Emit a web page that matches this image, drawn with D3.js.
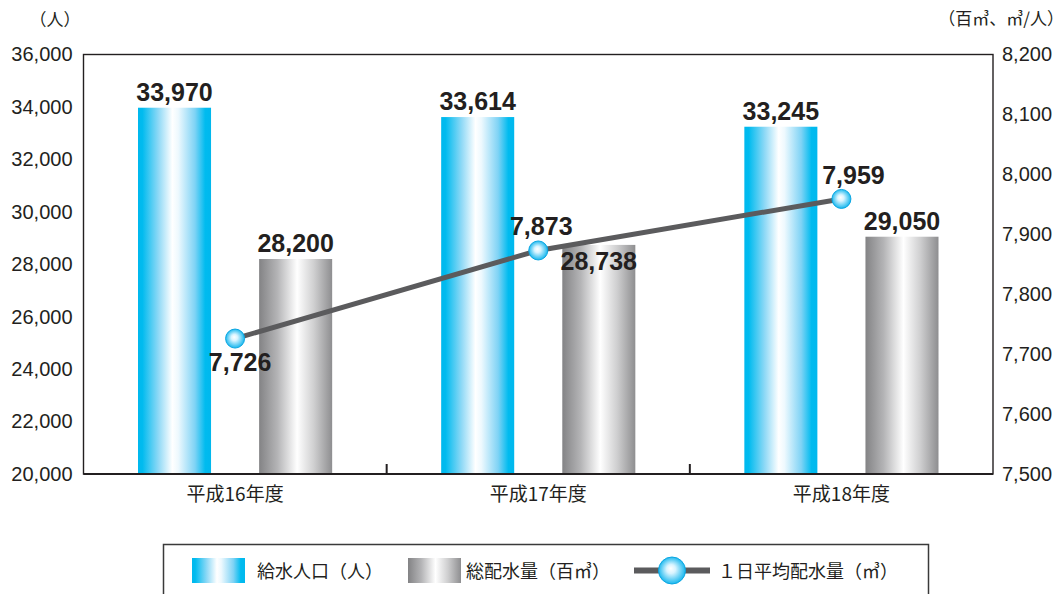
<!DOCTYPE html>
<html lang="ja">
<head>
<meta charset="utf-8">
<script src="https://cdn.jsdelivr.net/npm/d3@7"></script>
<style>
  html, body { margin: 0; padding: 0; background: #fff; }
  svg { display: block; }
  .num { font-family: "Liberation Sans", Arial, sans-serif; }
  .jp { font-family: "Noto Sans CJK JP", sans-serif; }
</style>
</head>
<body>
<svg id="chart" width="1064" height="594"></svg>
<script>
// 年度別データ
const categories = ["平成16年度", "平成17年度", "平成18年度"];
const population = [33970, 33614, 33245];      // 給水人口（人）
const totalVolume = [28200, 28738, 29050];     // 総配水量（百㎥）
const dailyAverage = [7726, 7873, 7959];       // 1日平均配水量（㎥）
const leftTicks = [20000, 22000, 24000, 26000, 28000, 30000, 32000, 34000, 36000];
const rightTicks = [7500, 7600, 7700, 7800, 7900, 8000, 8100, 8200];
const legendLabels = ["給水人口（人）", "総配水量（百㎥）", "１日平均配水量（㎥）"];

const ink = "#231f20";
const svg = d3.select("#chart");
const plot = { left: 83.5, right: 993, top: 54.5, bottom: 474 };

const x = d3.scaleBand().domain(categories).range([plot.left, plot.right]).padding(0);
const sub = d3.scaleBand().domain(["pop", "vol"]).range([0, x.bandwidth()])
  .paddingInner(0.397).paddingOuter(0.45);
const yL = d3.scaleLinear().domain([20000, 36000]).range([plot.bottom, plot.top]);
const yR = d3.scaleLinear().domain([7500, 8200]).range([plot.bottom, plot.top]);
const fmt = d3.format(",");

// gradients
const defs = svg.append("defs");
const blue = defs.append("linearGradient").attr("id", "gBlue");
[[0, "#00b8ee"], [0.06, "#00bbef"], [0.28, "#8fd9f6"], [0.47, "#ffffff"],
 [0.55, "#eef9fe"], [0.78, "#7fd3f5"], [0.92, "#00bbef"], [1, "#00b8ee"]]
  .forEach(([o, c]) => blue.append("stop").attr("offset", o).attr("stop-color", c));
const gray = defs.append("linearGradient").attr("id", "gGray");
[[0, "#838385"], [0.25, "#b4b4b6"], [0.52, "#ffffff"], [0.75, "#cfcfd0"], [1, "#8e8e90"]]
  .forEach(([o, c]) => gray.append("stop").attr("offset", o).attr("stop-color", c));
const ball = defs.append("radialGradient").attr("id", "gBall")
  .attr("cx", "50%").attr("cy", "50%").attr("r", "55%").attr("fx", "45%").attr("fy", "42%");
[[0, "#ffffff"], [0.3, "#d9f4ff"], [0.75, "#4cc8f3"], [1, "#00aee9"]]
  .forEach(([o, c]) => ball.append("stop").attr("offset", o).attr("stop-color", c));

// bars
const barKeys = [["pop", population, "url(#gBlue)"], ["vol", totalVolume, "url(#gGray)"]];
barKeys.forEach(([key, values, fill]) => {
  svg.append("g").selectAll("rect").data(categories).join("rect")
    .attr("x", c => x(c) + sub(key))
    .attr("width", sub.bandwidth())
    .attr("y", (c, i) => yL(values[i]))
    .attr("height", (c, i) => plot.bottom - yL(values[i]))
    .attr("fill", fill);
});

// frame
svg.append("rect")
  .attr("x", plot.left).attr("y", plot.top)
  .attr("width", plot.right - plot.left).attr("height", plot.bottom - plot.top)
  .attr("fill", "none").attr("stroke", ink).attr("stroke-width", 1.4);
svg.append("line")
  .attr("x1", plot.left).attr("x2", plot.right)
  .attr("y1", plot.bottom).attr("y2", plot.bottom)
  .attr("stroke", ink).attr("stroke-width", 2.2);

// category separators
svg.append("g").selectAll("line").data(categories.slice(0, -1)).join("line")
  .attr("x1", c => x(c) + x.bandwidth()).attr("x2", c => x(c) + x.bandwidth())
  .attr("y1", plot.bottom - 10).attr("y2", plot.bottom)
  .attr("stroke", ink).attr("stroke-width", 2);

// axes
const axL = svg.append("g").attr("transform", `translate(${plot.left},0)`)
  .call(d3.axisLeft(yL).tickValues(leftTicks).tickFormat(fmt).tickSize(0).tickPadding(11));
const axR = svg.append("g").attr("transform", `translate(${plot.right},0)`)
  .call(d3.axisRight(yR).tickValues(rightTicks).tickFormat(fmt).tickSize(0).tickPadding(9));
[axL, axR].forEach(a => {
  a.select(".domain").remove();
  a.selectAll("text").attr("class", "num").attr("font-size", 20).attr("fill", ink);
});
const axB = svg.append("g").attr("transform", `translate(0,${plot.bottom})`)
  .call(d3.axisBottom(x).tickSize(0).tickPadding(0));
axB.select(".domain").remove();
axB.selectAll("text").attr("class", "jp").attr("font-size", 19).attr("fill", ink)
  .attr("dy", null).attr("y", 27);

// unit labels
svg.append("text").attr("class", "jp").attr("x", 55).attr("y", 26)
  .attr("text-anchor", "middle").attr("font-size", 17).attr("fill", ink).text("（人）");
svg.append("text").attr("class", "jp").attr("x", 1064).attr("y", 25)
  .attr("text-anchor", "end").attr("font-size", 17).attr("fill", ink).text("（百㎥、㎥/人）");

// bar value labels
const insideBarLabel = { vol: [false, true, false], pop: [false, false, false] };
barKeys.forEach(([key, values]) => {
  svg.append("g").selectAll("text").data(categories).join("text")
    .attr("class", "num")
    .attr("x", c => x(c) + sub(key) + sub.bandwidth() / 2)
    .attr("y", (c, i) => yL(values[i]) + (insideBarLabel[key][i] ? 25 : -7))
    .attr("text-anchor", "middle").attr("font-size", 25).attr("font-weight", "bold")
    .attr("fill", ink)
    .text((c, i) => fmt(values[i]));
});

// daily average line
const cx = c => x(c) + x.bandwidth() / 2;
const line = d3.line().x((d, i) => cx(categories[i])).y(d => yR(d));
svg.append("path").datum(dailyAverage).attr("d", line)
  .attr("fill", "none").attr("stroke", "#5b5b5d").attr("stroke-width", 5);
svg.append("g").selectAll("circle").data(dailyAverage).join("circle")
  .attr("cx", (d, i) => cx(categories[i])).attr("cy", d => yR(d)).attr("r", 9.5)
  .attr("fill", "url(#gBall)").attr("stroke", "#0aa6e2").attr("stroke-width", 1);
const lineLabelOffset = [[5, 32], [3, -15], [12, -15]];
svg.append("g").selectAll("text").data(dailyAverage).join("text")
  .attr("class", "num")
  .attr("x", (d, i) => cx(categories[i]) + lineLabelOffset[i][0])
  .attr("y", (d, i) => yR(d) + lineLabelOffset[i][1])
  .attr("text-anchor", "middle").attr("font-size", 25).attr("font-weight", "bold")
  .attr("fill", ink).text(d => fmt(d));

// legend
const lg = svg.append("g");
lg.append("rect").attr("x", 163.5).attr("y", 544.5).attr("width", 765).attr("height", 70)
  .attr("fill", "#fff").attr("stroke", "#3a3a3a").attr("stroke-width", 1.5);
lg.append("rect").attr("x", 192).attr("y", 558).attr("width", 53).attr("height", 25)
  .attr("fill", "url(#gBlue)");
lg.append("rect").attr("x", 408).attr("y", 558).attr("width", 53).attr("height", 25)
  .attr("fill", "url(#gGray)");
lg.append("line").attr("x1", 634).attr("x2", 710).attr("y1", 570.5).attr("y2", 570.5)
  .attr("stroke", "#5b5b5d").attr("stroke-width", 6);
lg.append("circle").attr("cx", 672).attr("cy", 570.5).attr("r", 13.5)
  .attr("fill", "url(#gBall)").attr("stroke", "#0aa6e2").attr("stroke-width", 1);
const legendX = [257, 466, 718];
lg.selectAll("text.lbl").data(legendLabels).join("text")
  .attr("class", "jp lbl").attr("x", (d, i) => legendX[i]).attr("y", 578)
  .attr("font-size", 18).attr("fill", ink).text(d => d);
</script>
</body>
</html>
